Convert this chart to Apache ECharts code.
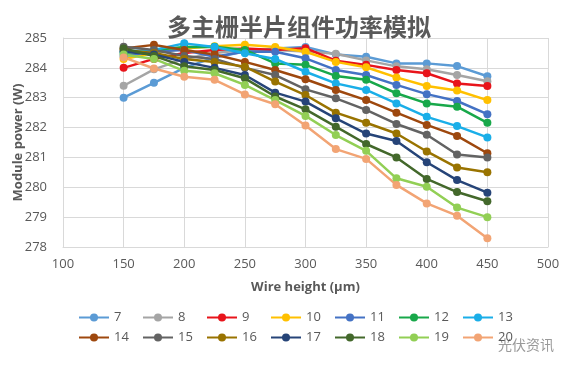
<!DOCTYPE html>
<html><head><meta charset="utf-8">
<script src="https://cdn.jsdelivr.net/npm/echarts@6/dist/echarts.min.js"></script>
<style>html,body{margin:0;padding:0;background:#fff}#c{width:571px;height:366px}</style>
</head><body><div id="c"></div>
<script>
const xValues = [150,175,200,225,250,275,300,325,350,375,400,425,450];
const seriesNames = ['7','8','9','10','11','12','13','14','15','16','17','18','19','20'];
const s7  = [283.0,283.5,284.0,284.35,284.55,284.65,284.7,284.45,284.37,284.15,284.15,284.06,283.72];
const s8  = [283.4,283.95,284.3,284.5,284.6,284.6,284.55,284.47,284.25,284.05,283.95,283.76,283.55];
const s9  = [284.0,284.3,284.5,284.6,284.65,284.6,284.66,284.24,284.1,283.93,283.82,283.48,283.39];
const s10 = [284.3,284.5,284.65,284.72,284.77,284.7,284.54,284.2,284.02,283.68,283.39,283.24,282.92];
const s11 = [284.4,284.55,284.6,284.37,284.55,284.54,284.32,283.93,283.76,283.43,283.12,282.89,282.45];
const s12 = [284.5,284.6,284.7,284.71,284.6,284.15,284.1,283.73,283.6,283.15,282.81,282.7,282.16];
const s13 = [284.55,284.6,284.82,284.7,284.49,284.3,283.87,283.48,283.26,282.81,282.36,282.05,281.67];
const s14 = [284.65,284.77,284.6,284.45,284.2,283.93,283.62,283.26,282.92,282.5,282.09,281.72,281.14];
const s15 = [284.71,284.6,284.4,284.3,284.0,283.76,283.28,282.98,282.59,282.12,281.76,281.1,281.0];
const s16 = [284.6,284.5,284.3,284.2,284.04,283.54,283.09,282.5,282.16,281.8,281.2,280.66,280.5];
const s17 = [284.55,284.45,284.2,284.0,283.76,283.17,282.87,282.31,281.8,281.55,280.84,280.24,279.82];
const s18 = [284.65,284.4,284.05,283.93,283.65,283.04,282.61,282.03,281.45,281.0,280.28,279.84,279.53];
const s19 = [284.45,284.3,283.9,283.82,283.43,282.92,282.39,281.75,281.22,280.3,280.02,279.32,279.0];
const s20 = [284.35,283.98,283.7,283.6,283.11,282.78,282.07,281.28,280.95,280.08,279.46,279.05,278.29];
const allValues = [s7,s8,s9,s10,s11,s12,s13,s14,s15,s16,s17,s18,s19,s20];
const colors = ['#5B9BD5','#A5A5A5','#E8141B','#FFC000','#4472C4','#18A84A','#1AAEE8','#9E480E','#636363','#997300','#264478','#43682B','#92CF55','#F2A474'];

const chart = echarts.init(document.getElementById('c'), null, {renderer:'canvas'});
const font = '"Open Sans", "Liberation Sans", sans-serif';
const legends = seriesNames.map((n, i) => ({
  left: 78 + 64 * (i % 7), top: i < 7 ? 311 : 331,
  data: [n], itemWidth: 30, itemHeight: 10, itemGap: 0, padding: 0,
  textStyle: {color:'#595959', fontSize: 13, fontFamily: font}
}));
chart.setOption({
  animation: false,
  color: colors,
  title: {
    text: '多主栅半片组件功率模拟', left: 294, top: 10, textAlign: 'center',
    textStyle: {fontSize: 24, fontWeight: 'bold', color: '#595959', fontFamily: '"Noto Sans CJK SC", sans-serif'}
  },
  grid: {left: 63, right: 23, top: 38, bottom: 119, containLabel: false, outerBoundsMode: 'none'},
  xAxis: {
    type: 'value', min: 100, max: 500, interval: 50,
    name: 'Wire height (μm)', nameLocation: 'middle', nameGap: 34, nameMoveOverlap: false,
    nameTextStyle: {fontSize: 13, fontWeight: 'bold', color: '#595959', fontFamily: font},
    axisLine: {lineStyle: {color: '#D9D9D9'}}, axisTick: {show: false},
    axisLabel: {color: '#595959', fontSize: 13, fontFamily: font, margin: 11},
    splitLine: {lineStyle: {color: '#D9D9D9'}}
  },
  yAxis: {
    type: 'value', min: 278, max: 285, interval: 1,
    name: 'Module power (W)', nameLocation: 'middle', nameGap: 38, nameRotate: 90, nameMoveOverlap: false,
    nameTextStyle: {fontSize: 13, fontWeight: 'bold', color: '#595959', fontFamily: font},
    axisLine: {show: true, lineStyle: {color: '#D9D9D9'}}, axisTick: {show: false},
    axisLabel: {color: '#595959', fontSize: 13, fontFamily: font, margin: 16},
    splitLine: {lineStyle: {color: '#D9D9D9'}}
  },
  legend: legends,
  graphic: [{
    type: 'text', left: 498, top: 338,
    style: {text: '光伏资讯', fontSize: 14, fill: '#9a9a9a', fontFamily: '"Noto Sans CJK SC", sans-serif'}
  }],
  series: seriesNames.map((n, i) => ({
    name: n, type: 'line',
    data: xValues.map((x, j) => [x, allValues[i][j]]),
    symbol: 'circle', symbolSize: 8,
    lineStyle: {width: 2.5}
  }))
});
</script></body></html>
